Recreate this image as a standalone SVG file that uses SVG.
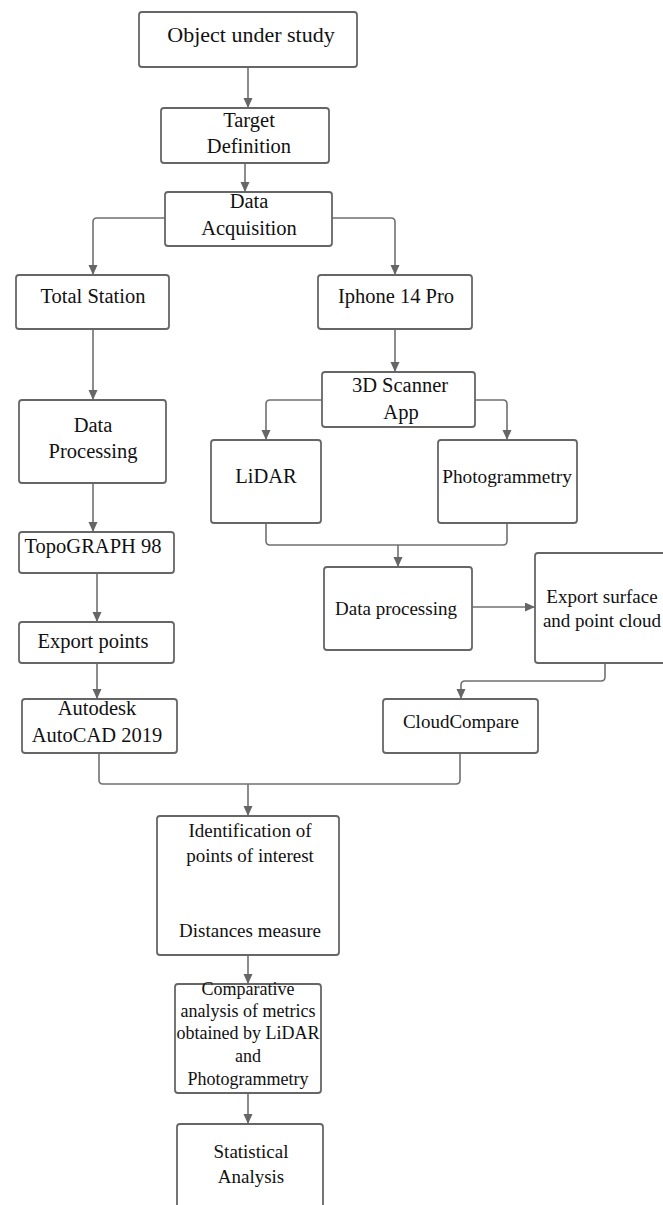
<svg xmlns="http://www.w3.org/2000/svg" width="663" height="1205" viewBox="0 0 663 1205">
<style>
.box{fill:#fff;stroke:#666;stroke-width:1.8}
.ln{fill:none;stroke:#707070;stroke-width:1.6}
.ar{fill:none;stroke:#707070;stroke-width:1.6;marker-end:url(#ah)}
text{font-family:"Liberation Serif","Times New Roman",serif;fill:#111;text-anchor:middle;font-size:20.5px}
.s19{font-size:19px}
.s18{font-size:18px}
</style>
<defs>
<marker id="ah" markerUnits="userSpaceOnUse" markerWidth="10" markerHeight="10" refX="10" refY="4.5" orient="auto">
<path d="M0,0 L10,4.5 L0,9 z" fill="#666"/>
</marker>
</defs>
<rect width="663" height="1205" fill="#fff"/>
<g id="connectors">
<path class="ar" d="M248,67 V108"/>
<path class="ar" d="M245,163 V192"/>
<path class="ar" d="M165,218 H97 Q93,218 93,222 V275"/>
<path class="ar" d="M332,218 H391 Q395,218 395,222 V275"/>
<path class="ar" d="M93,329 V400"/>
<path class="ar" d="M395,329 V372"/>
<path class="ar" d="M322,400 H270 Q266,400 266,404 V440"/>
<path class="ar" d="M475,400 H503 Q507,400 507,404 V440"/>
<path class="ar" d="M93,483 V532"/>
<path class="ar" d="M97,573 V622"/>
<path class="ar" d="M97,663 V699"/>
<path class="ln" d="M266,523 V541 Q266,545 270,545 H503 Q507,545 507,541 V523"/>
<path class="ar" d="M398,545 V567"/>
<path class="ar" d="M472,607 H535"/>
<path class="ar" d="M605,663 V677 Q605,681 601,681 H465 Q461,681 461,685 V699"/>
<path class="ln" d="M99,753 V780 Q99,784 103,784 H456 Q460,784 460,780 V753"/>
<path class="ar" d="M248,784 V816"/>
<path class="ar" d="M248,955 V984"/>
<path class="ar" d="M248,1093 V1124"/>
</g>
<g id="object">
<rect class="box" x="139" y="12" width="218" height="55" rx="3"/>
<text x="251" y="42" style="font-size:22px">Object under study</text>
</g>
<g id="target">
<rect class="box" x="161" y="108" width="168" height="55" rx="3"/>
<text x="249" y="127">Target</text>
<text x="249" y="153">Definition</text>
</g>
<g id="acquisition">
<rect class="box" x="165" y="192" width="167" height="54" rx="3"/>
<text x="249" y="208">Data</text>
<text x="249" y="235">Acquisition</text>
</g>
<g id="total-station">
<rect class="box" x="16" y="275" width="153" height="54" rx="3"/>
<text x="93" y="303">Total Station</text>
</g>
<g id="iphone">
<rect class="box" x="318" y="275" width="154" height="54" rx="3"/>
<text x="396" y="303">Iphone 14 Pro</text>
</g>
<g id="data-processing-left">
<rect class="box" x="19" y="400" width="147" height="83" rx="3"/>
<text x="93" y="432">Data</text>
<text x="93" y="458">Processing</text>
</g>
<g id="scanner">
<rect class="box" x="322" y="372" width="153" height="55" rx="3"/>
<text x="400" y="392">3D Scanner</text>
<text x="401" y="419">App</text>
</g>
<g id="lidar">
<rect class="box" x="211" y="440" width="110" height="83" rx="3"/>
<text x="266" y="483">LiDAR</text>
</g>
<g id="photogrammetry">
<rect class="box" x="438" y="440" width="139" height="83" rx="3"/>
<text x="507" y="483" style="font-size:19.3px">Photogrammetry</text>
</g>
<g id="topograph">
<rect class="box" x="19" y="532" width="155" height="41" rx="3"/>
<text x="93" y="553">TopoGRAPH 98</text>
</g>
<g id="data-processing-right">
<rect class="box" x="324" y="567" width="148" height="83" rx="3"/>
<text x="396" y="615" class="s19">Data processing</text>
</g>
<g id="export-surface">
<rect class="box" x="535" y="553" width="135" height="110" rx="3"/>
<text x="602" y="603" class="s19">Export surface</text>
<text x="602" y="627" class="s19">and point cloud</text>
</g>
<g id="export-points">
<rect class="box" x="19" y="622" width="155" height="41" rx="3"/>
<text x="93" y="648">Export points</text>
</g>
<g id="autocad">
<rect class="box" x="22" y="699" width="155" height="54" rx="3"/>
<text x="97" y="715">Autodesk</text>
<text x="97" y="742">AutoCAD 2019</text>
</g>
<g id="cloudcompare">
<rect class="box" x="383" y="699" width="155" height="54" rx="3"/>
<text x="461" y="728" class="s19">CloudCompare</text>
</g>
<g id="identification">
<rect class="box" x="157" y="816" width="182" height="139" rx="3"/>
<text x="250" y="837" class="s19">Identification of</text>
<text x="250" y="862" class="s19">points of interest</text>
<text x="250" y="937" class="s19">Distances measure</text>
</g>
<g id="comparative">
<rect class="box" x="175" y="984" width="146" height="109" rx="3"/>
<text x="248" y="995" class="s18">Comparative</text>
<text x="248" y="1017" class="s18">analysis of metrics</text>
<text x="248" y="1039" class="s18">obtained by LiDAR</text>
<text x="248" y="1062" class="s18">and</text>
<text x="248" y="1085" class="s18">Photogrammetry</text>
</g>
<g id="statistical">
<rect class="box" x="177" y="1124" width="146" height="95" rx="3"/>
<text x="251" y="1158" class="s19">Statistical</text>
<text x="251" y="1183" class="s19">Analysis</text>
</g>
</svg>
